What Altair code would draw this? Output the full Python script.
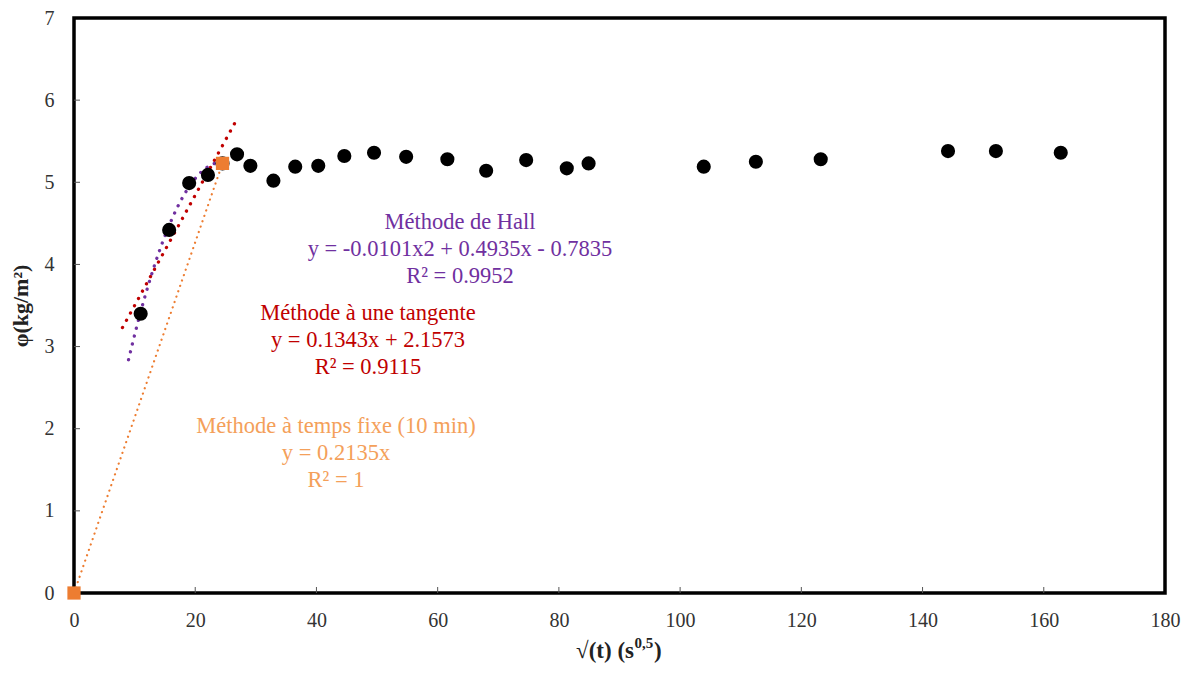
import altair as alt
import pandas as pd

# ---- data ----
x_vals = [11.0, 15.7, 19.0, 22.1, 24.5, 26.9, 29.1, 32.9, 36.5, 40.3, 44.6, 49.5,
          54.8, 61.6, 68.0, 74.6, 81.3, 84.9, 103.9, 112.5, 123.2, 144.2, 152.1, 162.8]
y_vals = [3.40, 4.42, 4.99, 5.09, 5.23, 5.34, 5.20, 5.02, 5.19, 5.20, 5.32, 5.36,
          5.31, 5.28, 5.14, 5.27, 5.17, 5.23, 5.19, 5.25, 5.28, 5.38, 5.38, 5.36]
fixed_x = [0, 24.5]
fixed_y = [0, 5.23]

# trendline coefficients (as printed on the chart) and extents
tan_slope, tan_icpt, tan_range = 0.1343, 2.1573, [8.0, 26.5]
hall_a, hall_b, hall_c, hall_range = -0.0101, 0.4935, -0.7835, [9.0, 24.3]
fix_slope, fix_range = 0.2135, [0.0, 24.5]

x_ticks = [20, 40, 60, 80, 100, 120, 140, 160]
y_ticks = [1, 2, 3, 4, 5, 6]

W, H = 1091, 575
FONT = "Liberation Serif"

xscale = alt.Scale(domain=[0, 180], nice=False)
yscale = alt.Scale(domain=[0, 7], nice=False)
xaxis = alt.Axis(values=list(range(0, 181, 20)), ticks=False, domain=False, grid=False,
                 labelPadding=17, labelFlush=False, title=None)
yaxis = alt.Axis(values=list(range(0, 8)), ticks=False, domain=False, grid=False,
                 labelPadding=20, labelFlush=False, title="φ(kg/m²)", titlePadding=12)

def X(f="x"):
    return alt.X(f"{f}:Q", scale=xscale, axis=xaxis)

def Y(f="y"):
    return alt.Y(f"{f}:Q", scale=yscale, axis=yaxis)

pts = pd.DataFrame({"x": x_vals, "y": y_vals})
fixed = pd.DataFrame({"x": fixed_x, "y": fixed_y})

points = alt.Chart(pts).mark_point(shape="circle", filled=True, size=200, color="black",
                                   opacity=1).encode(x=X(), y=Y())
fixed_pts = alt.Chart(fixed).mark_square(size=175, color="#ED7D31", opacity=1).encode(x=X(), y=Y())

def seq(r, step):
    return alt.sequence(start=r[0], stop=r[1] + step / 2, step=step, as_="x")

tan_line = alt.Chart(seq(tan_range, tan_range[1] - tan_range[0])).transform_calculate(
    y=f"{tan_slope}*datum.x + {tan_icpt}"
).mark_line(color="#C00000", strokeWidth=3.3, strokeDash=[0.1, 8.2], strokeCap="round").encode(x=X(), y=Y())

hall_line = alt.Chart(seq(hall_range, 0.3)).transform_calculate(
    y=f"{hall_a}*datum.x*datum.x + {hall_b}*datum.x + {hall_c}"
).mark_line(color="#7030A0", strokeWidth=3.3, strokeDash=[0.1, 8.0], strokeCap="round").encode(x=X(), y=Y())

fix_line = alt.Chart(seq(fix_range, fix_range[1] - fix_range[0])).transform_calculate(
    y=f"{fix_slope}*datum.x"
).mark_line(color="#ED7D31", strokeWidth=2.2, strokeDash=[0.1, 5.6], strokeCap="round").encode(x=X(), y=Y())

xt = alt.Chart(pd.DataFrame({"x": x_ticks})).mark_rule(color="#555", strokeWidth=1).encode(
    x=X(), y=alt.value(H), y2=alt.value(H - 6))
yt = alt.Chart(pd.DataFrame({"y": y_ticks})).mark_rule(color="#555", strokeWidth=1).encode(
    y=Y(), x=alt.value(0), x2=alt.value(6))

one = pd.DataFrame({"k": [0]})
def label(lines, color, cx, cy):
    return alt.Chart(one).mark_text(text=lines, color=color, font=FONT, fontSize=22.5,
                                    align="center", baseline="middle", lineHeight=27).encode(
        x=alt.value(cx), y=alt.value(cy))

hall_txt = label(["Méthode de Hall", "y = -0.0101x2 + 0.4935x - 0.7835", "R² = 0.9952"],
                 "#7030A0", 386, 204)
tan_txt = label(["Méthode à une tangente", "y = 0.1343x + 2.1573", "R² = 0.9115"],
                "#C00000", 294, 295)
fix_txt = label(["Méthode à temps fixe (10 min)", "y = 0.2135x", "R² = 1"],
                "#F4A05A", 262, 408)

# x-axis title with a real superscript
TX, TY = 560, H + 65
def ttl(txt, size, dx, dy, align):
    return alt.Chart(one).mark_text(text=txt, font=FONT, fontSize=size, fontWeight="bold",
                                    color="#222", align=align, baseline="alphabetic").encode(
        x=alt.value(TX + dx), y=alt.value(TY + dy))

t1 = ttl("√(t) (s", 23, 0, 0, "right")
t2 = ttl("0,5", 15, 0.5, -10, "left")
t3 = ttl(")", 23, 20, 0, "left")

chart = alt.layer(xt, yt, fix_line, tan_line, hall_line, points, fixed_pts,
                  hall_txt, tan_txt, fix_txt, t1, t2, t3).properties(
    width=W, height=H,
    background="white",
    autosize=alt.AutoSizeParams(type="none"),
    padding={"left": 66, "top": 10, "right": 16, "bottom": 70},
).configure_view(stroke="black", strokeWidth=3.5).configure_axis(
    labelFont=FONT, labelFontSize=20, labelColor="#333",
    titleFont=FONT, titleFontSize=22, titleFontWeight="bold", titleColor="#222",
)

chart.save("out.html", embed_options={"renderer": "svg", "actions": False})
